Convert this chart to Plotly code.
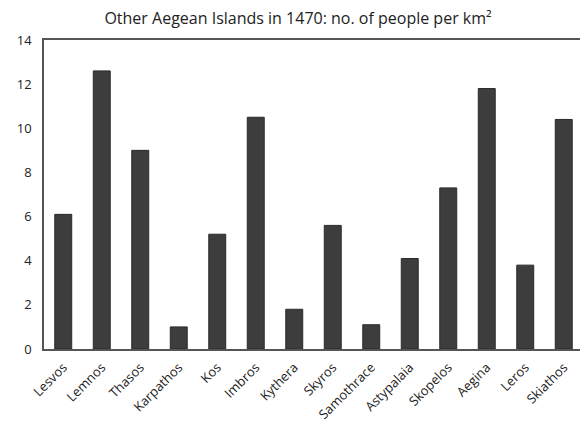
import plotly.graph_objects as go

islands = ["Lesvos", "Lemnos", "Thasos", "Karpathos", "Kos", "Imbros", "Kythera",
           "Skyros", "Samothrace", "Astypalaia", "Skopelos", "Aegina", "Leros", "Skiathos"]
density = [6.1, 12.6, 9.0, 1.0, 5.2, 10.5, 1.8, 5.6, 1.1, 4.1, 7.3, 11.8, 3.8, 10.4]
y_ticks = [0, 2, 4, 6, 8, 10, 12, 14]

fig = go.Figure(go.Bar(
    x=islands, y=density,
    marker=dict(color="#3d3d3d", line=dict(color="#2a2a2a", width=1)),
))

# page body has an 8px margin, so the figure is drawn 8px smaller and offsets trimmed
fig.update_layout(
    width=580, height=427,
    margin=dict(l=36, r=3, t=32, b=86),
    paper_bgcolor="white", plot_bgcolor="white",
    bargap=0.56,
    showlegend=False,
    font=dict(family="Open Sans", color="#222"),
    title=dict(text="Other Aegean Islands in 1470: no. of people per km²",
               x=0.5, xanchor="center", y=0.975, yanchor="middle",
               font=dict(size=16, color="#222")),
)
fig.update_xaxes(
    tickangle=-45, tickfont=dict(size=13), ticklabelstandoff=4,
    showline=True, linecolor="#555", linewidth=1.5, mirror=True,
    showgrid=False, ticks="",
)
fig.update_yaxes(
    range=[0, 14], tickvals=y_ticks, tickfont=dict(size=13), ticklabelstandoff=8,
    showline=True, linecolor="#555", linewidth=1.5, mirror=True,
    showgrid=False, zeroline=False, ticks="",
)

fig.write_html("out.html")
